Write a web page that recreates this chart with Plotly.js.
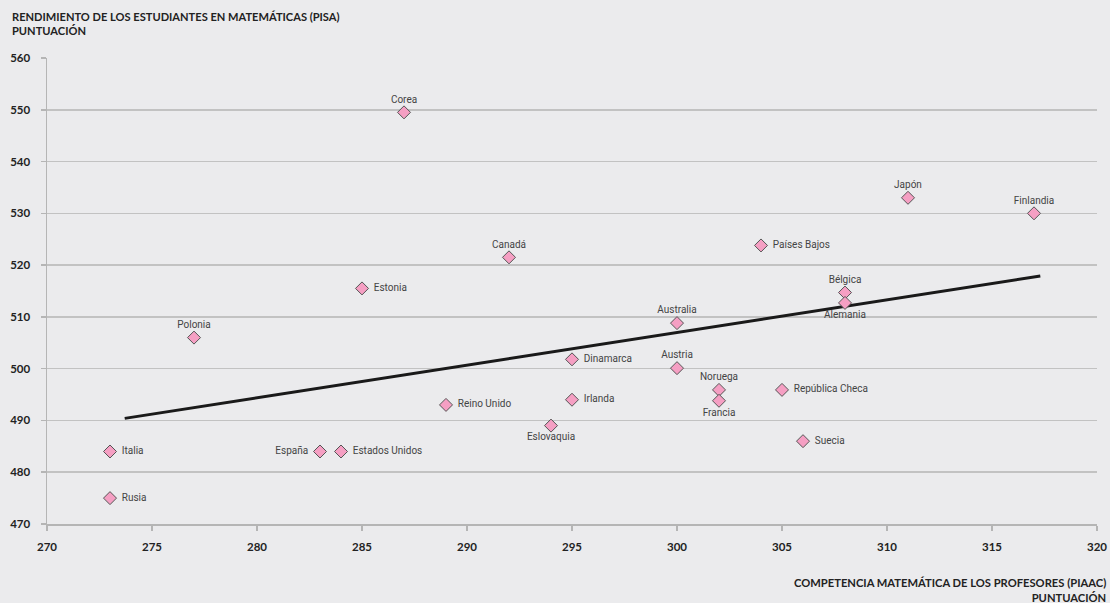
<!DOCTYPE html>
<html><head><meta charset="utf-8">
<script src="https://cdn.plot.ly/plotly-3.0.1.min.js"></script>
<style>html,body{margin:0;padding:0;background:#ebebed;}#c{width:1110px;height:603px;}</style>
</head><body><div id="c"></div>
<script>
const countries = ["Corea","Canadá","Estonia","Polonia","Japón","Finlandia","Países Bajos","Bélgica","Alemania","Australia","Dinamarca","Austria","Noruega","Francia","República Checa","Reino Unido","Irlanda","Eslovaquia","Suecia","Italia","España","Estados Unidos","Rusia"];
const piaac = [287,292,285,277,311,317,304,308,308,300,295,300,302,302,305,289,295,294,306,273,283,284,273];
const pisa = [549.5,521.5,515.5,506,533,530,523.8,514.7,512.7,508.8,501.8,500.1,495.9,493.8,495.9,493,494,489,486,484,484,484,475];
const trendX = [273.7,317.3];
const trendY = [490.4,517.9];
const xTicks = [270,275,280,285,290,295,300,305,310,315,320];
const yTicks = [470,480,490,500,510,520,530,540,550,560];
const yTitle = "RENDIMIENTO DE LOS ESTUDIANTES EN MATEMÁTICAS (PISA)<br>PUNTUACIÓN";
const xTitle = "COMPETENCIA MATEMÁTICA DE LOS PROFESORES (PIAAC)<br>PUNTUACIÓN";

const labelPos = ["top center","top center","middle right","top center","top center","top center","middle right","top center","bottom center","top center","middle right","top center","top center","bottom center","middle right","middle right","middle right","bottom center","middle right","middle right","middle left","middle right","middle right"];
const labelText = countries.map((c, i) => labelPos[i] === "middle right" ? "\u2009 " + c : (labelPos[i] === "middle left" ? c + " \u2009" : c));

const traces = [
  {x: trendX, y: trendY, mode:"lines", line:{color:"#1a1a1a", width:3}, hoverinfo:"skip", showlegend:false},
  {x: piaac, y: pisa, text: labelText, mode:"markers+text", textposition: labelPos,
   marker:{symbol:"diamond", size:10, color:"#f59fc3", line:{color:"#555", width:1}},
   textfont:{family:"Roboto, sans-serif", size:10, color:"#444"}, showlegend:false}
];

const layout = {
  width:1110, height:603,
  paper_bgcolor:"#ebebed", plot_bgcolor:"#ebebed",
  margin:{l:47, r:13, t:58, b:79},
  font:{family:"Lato, sans-serif"},
  xaxis:{range:[270,320], tickvals:xTicks, ticktext:xTicks.map(String), showgrid:false, zeroline:false,
    showline:true, linecolor:"#b5b5b5", linewidth:1.5, ticks:"outside", ticklen:5, tickcolor:"#b5b5b5", tickwidth:1.5,
    tickfont:{family:"Lato, sans-serif", size:11.5, color:"#222", weight:"bold"}, ticklabelstandoff:7},
  yaxis:{range:[470,560], tickvals:yTicks, ticktext:yTicks.map(String), showgrid:true, gridcolor:"#c2c2c2", gridwidth:1.5, zeroline:false,
    showline:true, linecolor:"#b5b5b5", linewidth:1.5, ticks:"outside", ticklen:5, tickcolor:"#b5b5b5", tickwidth:1.5,
    tickfont:{family:"Lato, sans-serif", size:11.5, color:"#222", weight:"bold"}, ticklabelstandoff:8},
  annotations:[
    {text:yTitle, xref:"paper", yref:"paper", x:0, y:1, xshift:-37, yshift:50, xanchor:"left", yanchor:"top", align:"left", showarrow:false,
     font:{family:"Lato, sans-serif", size:11.1, color:"#222", weight:"bold"}},
    {text:xTitle, xref:"paper", yref:"paper", x:1, y:0, xshift:11, yshift:-50, xanchor:"right", yanchor:"top", align:"right", showarrow:false,
     font:{family:"Lato, sans-serif", size:11.2, color:"#222", weight:"bold"}}
  ],
  hovermode:false
};
Plotly.newPlot("c", traces, layout, {displayModeBar:false, staticPlot:true});
</script></body></html>
